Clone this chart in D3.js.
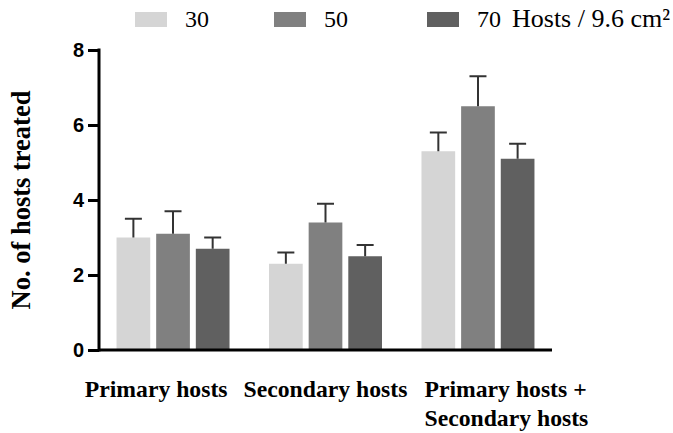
<!DOCTYPE html>
<html>
<head>
<meta charset="utf-8">
<script src="https://cdn.jsdelivr.net/npm/d3@7"></script>
<style>
  body { margin: 0; background: #fff; }
  svg { display: block; }
</style>
</head>
<body>
<script>
// chart data
var groups = ["Primary hosts", "Secondary hosts", "Primary hosts + Secondary hosts"];
var densities = ["30", "50", "70"];          // hosts / 9.6 cm²
var means = [
  [3.0, 3.1, 2.7],
  [2.3, 3.4, 2.5],
  [5.3, 6.5, 5.1]
];
var errors = [
  [0.5, 0.6, 0.3],
  [0.3, 0.5, 0.3],
  [0.5, 0.8, 0.4]
];
var yTicks = [0, 2, 4, 6, 8];

var colors = ["#d5d5d5", "#808080", "#606060"];

var svg = d3.select("body").append("svg").attr("width", 673).attr("height", 433);

// scales
var x0 = d3.scaleBand().domain(groups).range([99, 552]).paddingInner(0.259).paddingOuter(0.115);
var x1 = d3.scaleBand().domain(densities).range([0, x0.bandwidth()]).paddingInner(0.15);
var y = d3.scaleLinear().domain([0, 8]).range([350, 50]);

// flatten data for bars
var rows = [];
groups.forEach(function(g, i) {
  densities.forEach(function(s, j) {
    rows.push({group: g, series: s, value: means[i][j], err: errors[i][j], idx: j});
  });
});

// bars
svg.append("g").selectAll("rect")
  .data(rows)
  .enter().append("rect")
    .attr("x", function(d) { return x0(d.group) + x1(d.series); })
    .attr("y", function(d) { return y(d.value); })
    .attr("width", x1.bandwidth())
    .attr("height", function(d) { return y(0) - y(d.value); })
    .attr("fill", function(d) { return colors[d.idx]; });

// error bars (upper only)
var eb = svg.append("g").attr("stroke", "#333").attr("stroke-width", 2);
eb.selectAll("line.v")
  .data(rows)
  .enter().append("line")
    .attr("class", "v")
    .attr("x1", function(d) { return x0(d.group) + x1(d.series) + x1.bandwidth() / 2; })
    .attr("x2", function(d) { return x0(d.group) + x1(d.series) + x1.bandwidth() / 2; })
    .attr("y1", function(d) { return y(d.value); })
    .attr("y2", function(d) { return y(d.value + d.err); });
eb.selectAll("line.cap")
  .data(rows)
  .enter().append("line")
    .attr("class", "cap")
    .attr("x1", function(d) { return x0(d.group) + x1(d.series) + x1.bandwidth() / 2 - 8.5; })
    .attr("x2", function(d) { return x0(d.group) + x1(d.series) + x1.bandwidth() / 2 + 8.5; })
    .attr("y1", function(d) { return y(d.value + d.err); })
    .attr("y2", function(d) { return y(d.value + d.err); });

// y axis
var yAxis = svg.append("g")
  .attr("transform", "translate(99,0)")
  .call(d3.axisLeft(y).tickValues(yTicks).tickSize(11).tickPadding(4).tickSizeOuter(0));
yAxis.select(".domain").attr("stroke", "#000").attr("stroke-width", 3)
  .attr("d", "M0," + (y(8) - 1.5) + "V" + (y(0) + 1.5));
yAxis.selectAll(".tick line").attr("stroke", "#000").attr("stroke-width", 3);
yAxis.selectAll(".tick text")
  .attr("fill", "#000")
  .style("font-family", "'Liberation Sans', Arial, sans-serif")
  .style("font-weight", "bold")
  .style("font-size", "20px");

// x axis line
svg.append("line")
  .attr("x1", 99).attr("x2", 552)
  .attr("y1", y(0)).attr("y2", y(0))
  .attr("stroke", "#000").attr("stroke-width", 3);

// y title
svg.append("text")
  .attr("transform", "translate(30,200) rotate(-90)")
  .attr("text-anchor", "middle")
  .style("font-family", "'Liberation Serif', 'Times New Roman', serif")
  .style("font-weight", "bold")
  .style("font-size", "26.5px")
  .text("No. of hosts treated");

// x category labels
var anchors = ["end", "middle", "start"];
var catLines = [["Primary hosts"], ["Secondary hosts"], ["Primary hosts +", "Secondary hosts"]];
var cat = svg.append("g")
  .style("font-family", "'Liberation Serif', 'Times New Roman', serif")
  .style("font-weight", "bold")
  .style("font-size", "23.7px");
groups.forEach(function(g, i) {
  var ax = anchors[i] === "end" ? x0(g) + x0.bandwidth() - 2
         : anchors[i] === "middle" ? x0(g) + x0.bandwidth() / 2
         : x0(g) + 3;
  var t = cat.append("text").attr("text-anchor", anchors[i]);
  catLines[i].forEach(function(line, k) {
    t.append("tspan").attr("x", ax).attr("y", 397 + k * 29).text(line);
  });
});

// legend
var legendX = [135, 274, 427];
var legend = svg.append("g")
  .style("font-family", "'Liberation Serif', 'Times New Roman', serif");
densities.forEach(function(s, j) {
  legend.append("rect")
    .attr("x", legendX[j]).attr("y", 12)
    .attr("width", 32).attr("height", 15)
    .attr("fill", colors[j]);
  legend.append("text")
    .attr("x", legendX[j] + 50).attr("y", 27)
    .style("font-size", "24px")
    .text(s);
});
legend.append("text")
  .attr("x", 512).attr("y", 27)
  .style("font-size", "26px")
  .text("Hosts / 9.6 cm²");
</script>
</body>
</html>
